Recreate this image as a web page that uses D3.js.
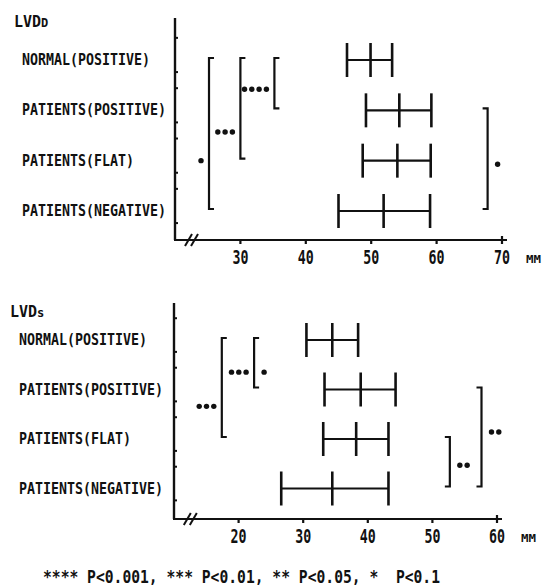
<!DOCTYPE html>
<html>
<head>
<meta charset="utf-8">
<script src="https://cdn.jsdelivr.net/npm/d3@7"></script>
<style>
  body { margin: 0; background: #fff; }
  svg { display: block; }
  text { font-family: "DejaVu Sans Mono", monospace; font-weight: bold; fill: #111; white-space: pre; }
</style>
</head>
<body>
<div class="card"></div>
<script>
/* global d3*/

var categories = ["NORMAL(POSITIVE)", "PATIENTS(POSITIVE)", "PATIENTS(FLAT)", "PATIENTS(NEGATIVE)"];

// LVDd (mm): lower end, mean, upper end of each bar
var lvddLow  = [46.3, 49.2, 48.7, 45.0];
var lvddMean = [49.9, 54.3, 54.0, 51.9];
var lvddHigh = [53.2, 59.2, 59.1, 59.0];
var lvddTicks = [30, 40, 50, 60, 70];

// LVDs (mm)
var lvdsLow  = [30.5, 33.3, 33.1, 26.6];
var lvdsMean = [34.5, 38.9, 38.2, 34.5];
var lvdsHigh = [38.5, 44.3, 43.2, 43.2];
var lvdsTicks = [20, 30, 40, 50, 60];

// significance brackets: rows joined, where (mm), which way it opens, stars left/right, row of the stars
var lvddBrackets = [
    {from: 0, to: 3, at: 25.2, dir: 1, left: 1, right: 0, labelRow: 2.0},
    {from: 0, to: 2, at: 30.0, dir: 1, left: 3, right: 0, labelRow: 1.43},
    {from: 0, to: 1, at: 35.2, dir: 1, left: 4, right: 0, labelRow: 0.58},
    {from: 1, to: 3, at: 67.8, dir: -1, left: 0, right: 1, labelRow: 2.07}
];
var lvdsBrackets = [
    {from: 0, to: 2, at: 17.4, dir: 1, left: 3, right: 0, labelRow: 1.34},
    {from: 0, to: 1, at: 22.4, dir: 1, left: 3, right: 1, labelRow: 0.65},
    {from: 2, to: 3, at: 52.7, dir: -1, left: 0, right: 2, labelRow: 2.53},
    {from: 1, to: 3, at: 57.6, dir: -1, left: 0, right: 2, labelRow: 1.86}
];

var legendText = "**** P<0.001, *** P<0.01, ** P<0.05, *  P<0.1";

var width = 542,
    height = 588;

var svg = d3.select(".card").append("svg")
    .attr("width", width)
    .attr("height", height);

// text squeezed to a fixed width per character, like the typewriter face
var squeezed = function(g, str, x, y, size, charW) {
    return g.append("text")
        .attr("x", x).attr("y", y)
        .style("font-size", size + "px")
        .attr("textLength", str.length * charW)
        .attr("lengthAdjust", "spacingAndGlyphs")
        .text(str);
};

var drawStars = function(g, n, x0, y, step) {
    for (var k = 0; k < n; k++) {
        g.append("circle")
            .attr("cx", x0 + k * step)
            .attr("cy", y)
            .attr("r", 2.7)
            .attr("fill", "#111");
    }
};

var drawPanel = function(p) {
    var g = svg.append("g");

    var x = d3.scaleLinear().domain(p.domain).range(p.xRange);
    var y = d3.scaleLinear().domain([0, categories.length - 1]).range(p.rowRange);
    var x0 = x(p.domain[0]);

    // title, small last letter
    var t = g.append("text").attr("x", p.titleX).attr("y", p.titleY)
        .style("font-size", "15px");
    t.append("tspan").text("LVD");
    t.append("tspan").style("font-size", "12px").text(p.sub);

    // category labels
    categories.forEach(function(c, i) {
        squeezed(g, c, p.labelX, y(i) + 5, 16.5, 8.0);
    });

    // y axis with its little ticks
    g.append("line")
        .attr("x1", x0).attr("x2", x0)
        .attr("y1", p.axisTop).attr("y2", p.axisY)
        .attr("stroke", "#111").attr("stroke-width", 2.4);
    var yTicks = [];
    categories.forEach(function(c, i) { yTicks.push(i - 0.44, i + 0.24); });
    g.selectAll(".ytick").data(yTicks).enter().append("line")
        .attr("x1", x0).attr("x2", x0 + 3)
        .attr("y1", function(d) { return y(d); })
        .attr("y2", function(d) { return y(d); })
        .attr("stroke", "#111").attr("stroke-width", 2);

    // x axis
    var last = p.ticks[p.ticks.length - 1];
    g.append("line")
        .attr("x1", x0 - 1).attr("x2", x(last) + 5)
        .attr("y1", p.axisY).attr("y2", p.axisY)
        .attr("stroke", "#111").attr("stroke-width", 2.2);
    g.selectAll(".xtick").data(p.ticks).enter().append("line")
        .attr("x1", function(d) { return x(d); })
        .attr("x2", function(d) { return x(d); })
        .attr("y1", function(d) { return d === last ? p.axisY - 4 : p.axisY - 1; })
        .attr("y2", p.axisY + 4)
        .attr("stroke", "#111").attr("stroke-width", 2.2);
    p.ticks.forEach(function(d) {
        squeezed(g, String(d), x(d) - 8, p.axisY + 24, 19, 8);
    });
    squeezed(g, "MM", x(last) + 24, p.axisY + 23, 11, 7.5);

    // axis break
    var bx = x(p.domain[0] + 2.6);
    [-3, 3].forEach(function(o) {
        g.append("line")
            .attr("x1", bx + o - 4).attr("y1", p.axisY + 6)
            .attr("x2", bx + o + 3).attr("y2", p.axisY - 6)
            .attr("stroke", "#111").attr("stroke-width", 2);
    });

    // bars: low - mean - high
    var rows = d3.range(categories.length);
    g.selectAll(".span").data(rows).enter().append("line")
        .attr("x1", function(i) { return x(p.low[i]); })
        .attr("x2", function(i) { return x(p.high[i]); })
        .attr("y1", function(i) { return y(i); })
        .attr("y2", function(i) { return y(i); })
        .attr("stroke", "#111").attr("stroke-width", 2.2);
    [p.low, p.mean, p.high].forEach(function(arr) {
        g.selectAll(null).data(rows).enter().append("line")
            .attr("x1", function(i) { return x(arr[i]); })
            .attr("x2", function(i) { return x(arr[i]); })
            .attr("y1", function(i) { return y(i) - 17; })
            .attr("y2", function(i) { return y(i) + 17; })
            .attr("stroke", "#111").attr("stroke-width", 2.6);
    });

    // significance brackets
    p.brackets.forEach(function(b) {
        var bxl = x(b.at),
            y1 = y(b.from) - 2,
            y2 = y(b.to) - 2,
            e = b.dir * 5;
        g.append("path")
            .attr("d", "M" + (bxl + e) + "," + y1 + "H" + bxl + "V" + y2 + "H" + (bxl + e))
            .attr("fill", "none").attr("stroke", "#111").attr("stroke-width", 2.2);
        var ly = y(b.labelRow);
        if (b.left) drawStars(g, b.left, bxl - 8 - (b.left - 1) * 7.3, ly, 7.3);
        if (b.right) drawStars(g, b.right, bxl + 10, ly, 7.3);
    });
};

drawPanel({
    sub: "D", low: lvddLow, mean: lvddMean, high: lvddHigh, ticks: lvddTicks,
    brackets: lvddBrackets, domain: [20, 70], xRange: [175, 502],
    rowRange: [60, 211], axisTop: 18, axisY: 240,
    labelX: 22, titleX: 14, titleY: 27
});

drawPanel({
    sub: "s", low: lvdsLow, mean: lvdsMean, high: lvdsHigh, ticks: lvdsTicks,
    brackets: lvdsBrackets, domain: [10, 60], xRange: [174, 497],
    rowRange: [340, 488.5], axisTop: 303, axisY: 519,
    labelX: 19, titleX: 10, titleY: 317
});

// footnote
svg.append("text")
    .attr("x", 43).attr("y", 583)
    .style("font-size", "17px")
    .attr("textLength", 397)
    .attr("lengthAdjust", "spacingAndGlyphs")
    .text(legendText);
</script>
</body>
</html>
